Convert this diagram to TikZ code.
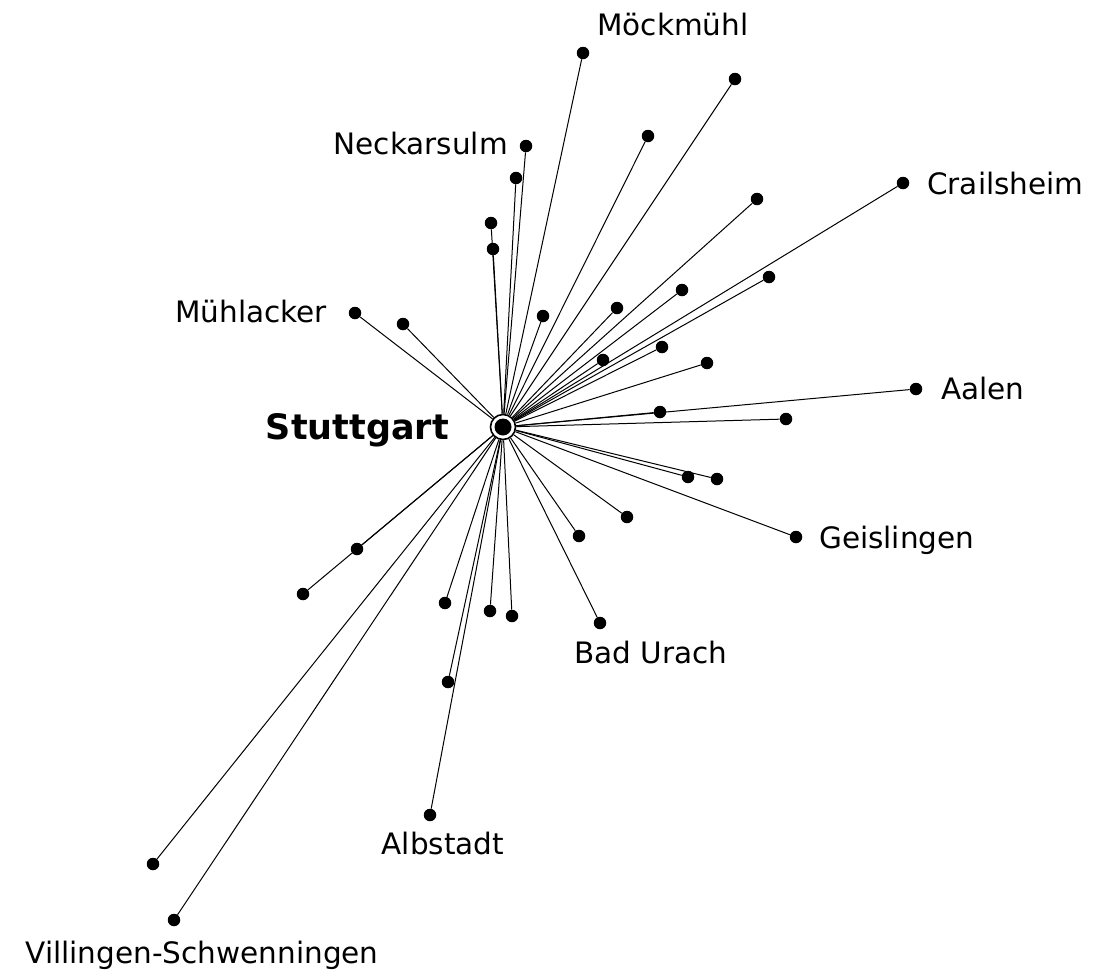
\documentclass[tikz,border=0pt]{standalone}
\usepackage{fontspec}
\setmainfont{DejaVu Sans}
\begin{document}
\begin{tikzpicture}[x=1pt,y=-1pt,
  dot/.style={circle,fill=black,inner sep=0pt,minimum size=12.5pt},
  hub/.style={circle,draw=black,line width=1.6pt,fill=white,inner sep=0pt,minimum size=25pt,
    path picture={\fill[black] (path picture bounding box.center) circle (8.5pt);}},
  lbl/.style={inner sep=0pt,font=\fontsize{29.5}{34}\selectfont},
  hublbl/.style={inner sep=0pt,font=\fontsize{35}{40}\selectfont\bfseries},
  link/.style={line width=1pt,black}]
\useasboundingbox (0,0) rectangle (1116,970);
% hub
\node[hub] (S) at (503,427) {};
% dots
\node[dot] (d1) at (583,53) {};
\node[dot] (d2) at (735,79) {};
\node[dot] (d3) at (648,136) {};
\node[dot] (d4) at (526,146) {};
\node[dot] (d5) at (516,178) {};
\node[dot] (d6) at (903,183) {};
\node[dot] (d7) at (491,223) {};
\node[dot] (d8) at (757,199) {};
\node[dot] (d9) at (493,249) {};
\node[dot] (d10) at (769,277) {};
\node[dot] (d11) at (682,290) {};
\node[dot] (d12) at (355,313) {};
\node[dot] (d13) at (617,308) {};
\node[dot] (d14) at (403,324) {};
\node[dot] (d15) at (543,316) {};
\node[dot] (d16) at (662,347) {};
\node[dot] (d17) at (603,360) {};
\node[dot] (d18) at (707,363) {};
\node[dot] (d19) at (916,389) {};
\node[dot] (d20) at (660,412) {};
\node[dot] (d21) at (786,419) {};
\node[dot] (d22) at (688,477) {};
\node[dot] (d23) at (717,479) {};
\node[dot] (d24) at (627,517) {};
\node[dot] (d25) at (796,537) {};
\node[dot] (d26) at (579,536) {};
\node[dot] (d27) at (357,549) {};
\node[dot] (d28) at (303,594) {};
\node[dot] (d29) at (445,603) {};
\node[dot] (d30) at (490,611) {};
\node[dot] (d31) at (512,616) {};
\node[dot] (d32) at (600,623) {};
\node[dot] (d33) at (448,682) {};
\node[dot] (d34) at (430,815) {};
\node[dot] (d35) at (153,864) {};
\node[dot] (d36) at (174,920) {};
% connectors
\foreach \i in {1,...,36} {\draw[link] (S) -- (d\i);}
% labels
\node[hublbl,anchor=base east] (lS) at (449,439) {Stuttgart};
\node[lbl,anchor=base] (l1) at (673,35) {Möckmühl};
\node[lbl,anchor=base east] (l4) at (508,154) {Neckarsulm};
\node[lbl,anchor=base west] (l6) at (927,194) {Crailsheim};
\node[lbl,anchor=base east] (l12) at (327,322) {Mühlacker};
\node[lbl,anchor=base west] (l19) at (941,399) {Aalen};
\node[lbl,anchor=base west] (l25) at (819,548) {Geislingen};
\node[lbl,anchor=base] (l32) at (651,663) {Bad Urach};
\node[lbl,anchor=base] (l34) at (443,854) {Albstadt};
\node[lbl,anchor=base] (l36) at (202,963) {Villingen-Schwenningen};
\end{tikzpicture}
\end{document}
